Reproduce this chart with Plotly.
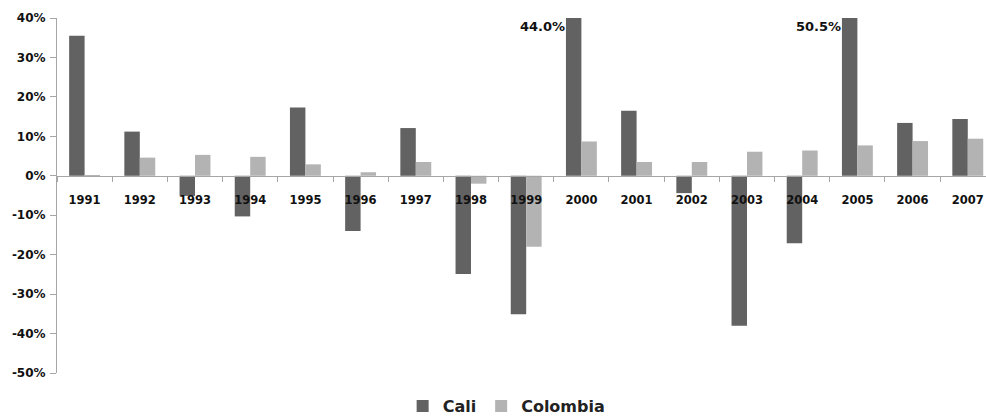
import plotly.graph_objects as go

years = [str(y) for y in range(1991, 2008)]
cali = [35.5, 11.2, -5.1, -10.3, 17.3, -14.0, 12.1, -24.9, -35.1, 44.0,
        16.5, -4.4, -38.0, -17.1, 50.5, 13.4, 14.4]
colombia = [-0.3, 4.6, 5.3, 4.8, 2.9, 0.9, 3.5, -2.0, -18.0, 8.7,
            3.5, 3.5, 6.1, 6.4, 7.7, 8.8, 9.4]
y_ticks = [-50, -40, -30, -20, -10, 0, 10, 20, 30, 40]
y_ticklabels = [f"{v}%" for v in y_ticks]
clipped_labels = {"2000": "44.0%", "2005": "50.5%"}

FONT = "DejaVu Sans"
ymin, ymax = -50, 40

fig = go.Figure()
fig.add_trace(go.Bar(name="Cali", x=years, y=cali, marker_color="#626262",
                     marker_line_width=0))
fig.add_trace(go.Bar(name="Colombia", x=years, y=colombia, marker_color="#b3b3b3",
                     marker_line_width=0))

for yr, txt in clipped_labels.items():
    fig.add_annotation(x=years.index(yr), xref="x", y=1.0, yref="paper", text=txt,
                       showarrow=False, xanchor="right", yanchor="top", xshift=-14,
                       yshift=1,
                       font=dict(family=FONT, size=13, color="#111111", weight="bold"))

fig.update_layout(
    width=986, height=417,
    margin=dict(l=57, r=0, t=18, b=44, autoexpand=False),
    paper_bgcolor="white", plot_bgcolor="white",
    barmode="group", bargap=0.44, bargroupgap=0,
    showlegend=True,
    legend=dict(orientation="h", x=0.484, xanchor="center", y=-0.045, yanchor="top",
                font=dict(family=FONT, size=16, color="#222222", weight="bold"),
                itemwidth=30, traceorder="normal"),
    xaxis=dict(
        type="category", range=[-0.5, 16.33], automargin=False,
        anchor="free", position=(0 - ymin) / (ymax - ymin),
        showline=True, linecolor="#a6a6a6", linewidth=1,
        ticks="outside", tickson="boundaries", ticklen=5, tickcolor="#a6a6a6",
        ticklabelstandoff=13,
        showgrid=False, zeroline=False,
        tickvals=years, ticktext=years,
        tickfont=dict(family=FONT, size=11.5, color="#111111", weight="bold"),
    ),
    yaxis=dict(
        range=[ymin, ymax], domain=[0, 1], automargin=False,
        tickvals=y_ticks, ticktext=y_ticklabels,
        showline=True, linecolor="#a6a6a6", linewidth=1,
        ticks="outside", ticklen=6, tickcolor="#a6a6a6",
        ticklabelstandoff=2,
        showgrid=False, zeroline=False,
        tickfont=dict(family=FONT, size=12, color="#111111", weight="bold"),
    ),
)

fig.write_html("out.html", config={"displayModeBar": False},
               post_script="document.body.style.margin='0';document.body.style.padding='0';")
